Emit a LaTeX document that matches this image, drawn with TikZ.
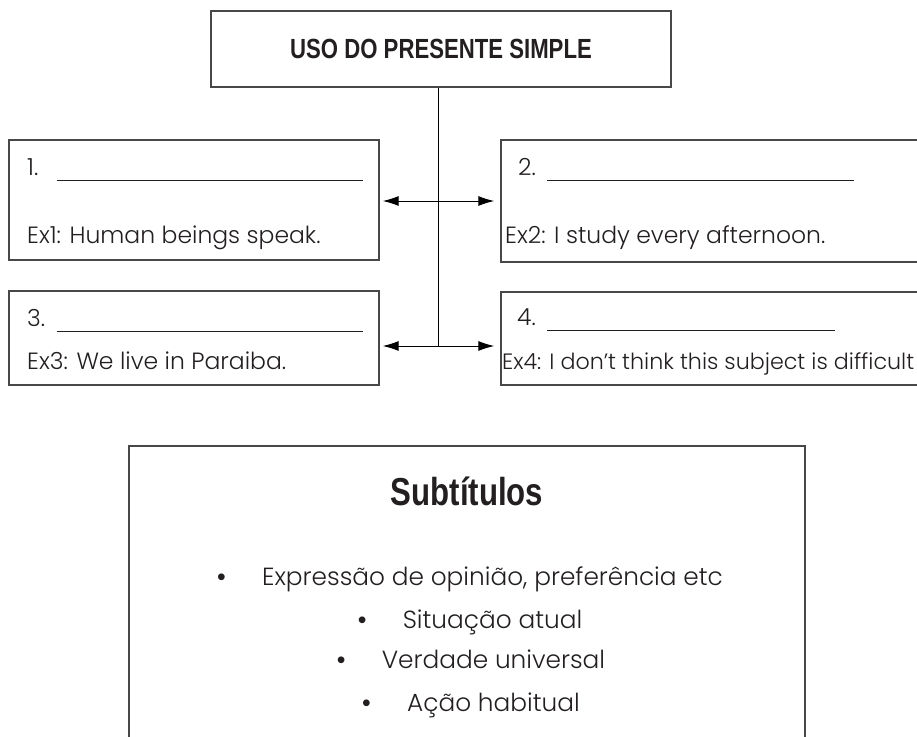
\documentclass[tikz,border=0pt]{standalone}
\usepackage{fontspec}
\setmainfont{Poppins Light}
\newfontfamily\headfont[FakeStretch=0.8,BoldFont={Liberation Sans Bold}]{Liberation Sans}
\newfontfamily\dotfont{Liberation Sans}
\usetikzlibrary{arrows.meta,positioning}
\definecolor{boxgray}{RGB}{72,72,72}
\definecolor{inkblack}{RGB}{35,31,32}
\newcommand{\listdot}{\makebox[45pt][l]{\dotfont •}}

\begin{document}
\begin{tikzpicture}[x=1pt,y=-1pt,
    panel/.style={draw=boxgray,line width=1.4pt,rectangle,inner sep=0pt},
    fieldtext/.style={anchor=base west,inner sep=0pt,text=inkblack,font=\fontsize{23.5}{27}\selectfont},
    listtext/.style={anchor=base,inner sep=0pt,text=inkblack,font=\fontsize{24.8}{28}\selectfont},
    linkarrow/.style={line width=1pt,-{Latex[length=16pt,width=10pt]}}]
  \clip (0,0) rectangle (917,736);
  % title box
  \node[panel,minimum width=460pt,minimum height=76pt,text=inkblack,
        font=\headfont\bfseries\fontsize{27.7}{30}\selectfont] (title) at (441,49) {USO DO PRESENTE SIMPLE};
  % the four boxes
  \node[panel,minimum width=370pt,minimum height=120pt] (box1) at (194,200) {};
  \node[panel,minimum width=438pt,minimum height=122pt] (box2) at (720,201) {};
  \node[panel,minimum width=370pt,minimum height=94pt] (box3) at (194,338) {};
  \node[panel,minimum width=438pt,minimum height=93pt] (box4) at (720,338.5) {};
  % blanks and examples
  \node[fieldtext] (num1) at (27,175) {\makebox[30pt][l]{1.}\rule[-6pt]{306pt}{1.1pt}};
  \node[fieldtext] (ex1) at (27,243) {Ex1: Human beings speak.};
  \node[fieldtext] (num2) at (518,175) {\makebox[29pt][l]{2.}\rule[-6pt]{307pt}{1.1pt}};
  \node[fieldtext] (ex2) at (505,243) {Ex2: I study every afternoon.};
  \node[fieldtext] (num3) at (27,326) {\makebox[30pt][l]{3.}\rule[-6pt]{306pt}{1.1pt}};
  \node[fieldtext] (ex3) at (27,369) {Ex3: We live in Paraiba.};
  \node[fieldtext] (num4) at (517,325) {\makebox[30pt][l]{4.}\rule[-6pt]{288pt}{1.1pt}};
  \node[fieldtext,font=\fontsize{22.2}{26}\selectfont] (ex4) at (502,369) {Ex4: I don’t think this subject is difficult};
  % connectors
  \coordinate (hub1) at (438,201);
  \coordinate (hub2) at (438,346);
  \draw[line width=1pt] (title.south -| hub1) -- (hub2);
  \draw[linkarrow,shorten >=3pt] (hub1) -- (box1.east |- hub1);
  \draw[linkarrow,shorten >=6pt] (hub1) -- (box2.west |- hub1);
  \draw[linkarrow,shorten >=3pt] (hub2) -- (box3.east |- hub2);
  \draw[linkarrow,shorten >=6pt] (hub2) -- (box4.west |- hub2);
  % legend box
  \node[panel,minimum width=676pt,minimum height=308pt] (legend) at (467,600) {};
  \node[anchor=base,inner sep=0pt,text=inkblack,
        font=\headfont\bfseries\fontsize{39}{42}\selectfont] (subhead) at (467,505) {Subtítulos};
  \node[listtext] (item1) at (470,585) {\listdot Expressão de opinião, preferência etc};
  \node[listtext] (item2) at (470,628) {\listdot Situação atual};
  \node[listtext] (item3) at (471,668) {\listdot Verdade universal};
  \node[listtext] (item4) at (471,711) {\listdot Ação habitual};
\end{tikzpicture}
\end{document}
